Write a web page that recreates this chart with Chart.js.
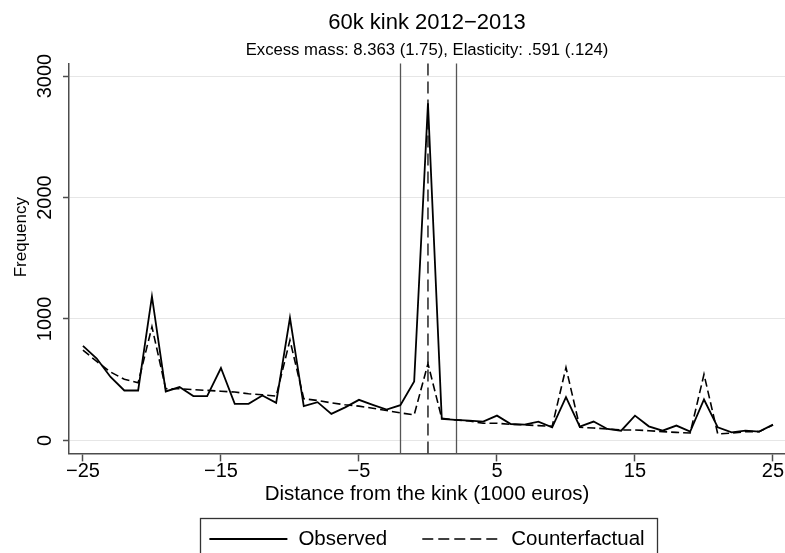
<!DOCTYPE html>
<html>
<head>
<meta charset="utf-8">
<script src="https://cdn.jsdelivr.net/npm/chart.js@4.4.1/dist/chart.umd.min.js"></script>
<style>
  html, body { margin: 0; padding: 0; background: #fff; }
  #wrap { width: 785px; height: 553px; }
</style>
</head>
<body>
<div id="wrap"><canvas id="myChart" width="785" height="553"></canvas></div>
<script>
// ---------------------------- data ----------------------------
var distance = [-25, -24, -23, -22, -21, -20, -19, -18, -17, -16, -15, -14, -13, -12, -11, -10,
  -9, -8, -7, -6, -5, -4, -3, -2, -1, 0, 1, 2, 3, 4, 5, 6, 7, 8, 9, 10,
  11, 12, 13, 14, 15, 16, 17, 18, 19, 20, 21, 22, 23, 24, 25];
var observed = [779, 674, 522, 411, 411, 1185, 403, 439, 365, 365, 596, 301, 301, 370, 309, 1010,
  282, 315, 218, 272, 334, 293, 254, 290, 485, 2775, 177, 169, 163, 155, 204, 135, 130, 155, 108, 356,
  113, 155, 94, 80, 204, 116, 80, 122, 72, 337, 108, 66, 80, 72, 130];
var counterfactual = [743, 650, 563, 503, 475, 936, 425, 425, 418, 412, 405, 398, 384, 376, 365, 826,
  343, 329, 309, 293, 282, 265, 246, 227, 210, 632, 182, 169, 160, 141, 141, 132, 128, 122, 116, 600,
  108, 102, 94, 86, 86, 80, 72, 66, 61, 544, 52, 61, 72, 72, 127];
var xTicks = [-25, -15, -5, 5, 15, 25];
var yTicks = [0, 1000, 2000, 3000];
var kinkBand = [-2, 2];   // excluded window
var kinkPoint = [0];      // the kink itself

var FONT = "'Liberation Sans', Arial, Helvetica, sans-serif";
var AXIS = '#4d4d4d';

function toPoints(vals) {
  return distance.map(function (d, i) { return { x: d, y: vals[i] }; });
}
function minus(v) {
  return String(v).replace('-', '\u2212');
}

// ------------------------- kink lines --------------------------
var kinkLines = {
  id: 'kinkLines',
  beforeDatasetsDraw: function (chart) {
    var ctx = chart.ctx, a = chart.chartArea, xs = chart.scales.x;
    ctx.save();
    ctx.strokeStyle = '#555';
    ctx.lineWidth = 1.3;
    kinkBand.forEach(function (v) {
      var px = Math.round(xs.getPixelForValue(v)) + 0.5;
      ctx.beginPath();
      ctx.moveTo(px, a.top);
      ctx.lineTo(px, a.bottom);
      ctx.stroke();
    });
    ctx.strokeStyle = '#333';
    ctx.lineWidth = 1.6;
    ctx.setLineDash([12, 6]);
    kinkPoint.forEach(function (v) {
      var px = xs.getPixelForValue(v);
      ctx.beginPath();
      ctx.moveTo(px, a.top);
      ctx.lineTo(px, a.bottom);
      ctx.stroke();
    });
    ctx.restore();
  }
};

// ------------------------ boxed legend -------------------------
var boxLegend = {
  id: 'boxLegend',
  afterDraw: function (chart) {
    var ctx = chart.ctx, a = chart.chartArea;
    var sets = chart.data.datasets;
    var sample = 78, gapText = 11, gapItem = 35;
    var y = 539;
    ctx.save();
    ctx.font = '20.5px ' + FONT;
    var total = 0;
    sets.forEach(function (ds, i) {
      total += sample + gapText + ctx.measureText(ds.label).width;
      if (i < sets.length - 1) total += gapItem;
    });
    var x = (a.left + a.right) / 2 - total / 2;
    var start = x;
    sets.forEach(function (ds) {
      ctx.strokeStyle = ds.borderColor;
      ctx.lineWidth = ds.borderWidth;
      ctx.setLineDash(ds.legendDash || []);
      ctx.beginPath();
      ctx.moveTo(x, y);
      ctx.lineTo(x + sample, y);
      ctx.stroke();
      ctx.setLineDash([]);
      x += sample + gapText;
      ctx.fillStyle = '#000';
      ctx.textBaseline = 'middle';
      ctx.textAlign = 'left';
      ctx.fillText(ds.label, x, y);
      x += ctx.measureText(ds.label).width + gapItem;
    });
    var end = x - gapItem;
    ctx.strokeStyle = '#333';
    ctx.lineWidth = 1.3;
    ctx.strokeRect(Math.round(start - 9) + 0.5, 518.5, Math.round(end + 13 - (start - 9)), 60);
    ctx.restore();
  }
};

// ---------------------------- chart ----------------------------
var pickChart = document.getElementById('myChart');
var drawChart = new Chart(pickChart, {
  type: 'line',
  data: {
    datasets: [
      {
        label: 'Observed',
        data: toPoints(observed),
        borderColor: '#000',
        borderWidth: 1.8,
        pointRadius: 0,
        tension: 0
      },
      {
        label: 'Counterfactual',
        data: toPoints(counterfactual),
        borderColor: '#000',
        borderWidth: 1.6,
        borderDash: [8, 4],
        legendDash: [11, 5],
        pointRadius: 0,
        tension: 0
      }
    ]
  },
  options: {
    responsive: false,
    animation: false,
    devicePixelRatio: 1,
    layout: { padding: { left: 0, right: 0, top: 0, bottom: 46 } },
    plugins: {
      legend: { display: false },
      tooltip: { enabled: false },
      title: {
        display: true,
        fullSize: false,
        text: '60k kink 2012\u22122013',
        color: '#000',
        font: { family: FONT, size: 22, weight: 'normal' },
        padding: { top: 10, bottom: 2 }
      },
      subtitle: {
        display: true,
        fullSize: false,
        text: 'Excess mass: 8.363 (1.75), Elasticity: .591 (.124)',
        color: '#000',
        font: { family: FONT, size: 16.7, weight: 'normal' },
        padding: { top: 2, bottom: 3 }
      }
    },
    scales: {
      x: {
        type: 'linear',
        min: -26.01,
        max: 25.87,
        afterBuildTicks: function (s) {
          s.ticks = xTicks.map(function (v) { return { value: v }; });
        },
        grid: {
          display: true,
          drawOnChartArea: false,
          drawTicks: true,
          tickLength: 8,
          tickWidth: 1.5,
          tickColor: AXIS
        },
        border: { display: true, color: AXIS, width: 1.5 },
        ticks: {
          color: '#000',
          font: { family: FONT, size: 20 },
          padding: -2,
          maxRotation: 0,
          autoSkip: false,
          callback: function (v) { return minus(v); }
        },
        title: {
          display: true,
          text: 'Distance from the kink (1000 euros)',
          color: '#000',
          font: { family: FONT, size: 20.5 },
          padding: { top: 1, bottom: 0 }
        }
      },
      y: {
        min: -107,
        max: 3104,
        afterBuildTicks: function (s) {
          s.ticks = yTicks.map(function (v) { return { value: v }; });
        },
        grid: {
          color: '#e6e6e6',
          lineWidth: 1,
          tickColor: AXIS,
          tickLength: 6,
          tickWidth: 1.5
        },
        border: { display: true, color: AXIS, width: 1.5 },
        ticks: {
          color: '#000',
          font: { family: FONT, size: 20 },
          minRotation: 90,
          maxRotation: 90,
          crossAlign: 'center',
          padding: -5,
          callback: function (v) { return minus(v); }
        },
        title: {
          display: true,
          text: '\u00a0\u00a0\u00a0\u00a0\u00a0\u00a0\u00a0\u00a0\u00a0Frequency',
          color: '#000',
          font: { family: FONT, size: 17 },
          padding: { top: 10.8, bottom: 17.8 }
        }
      }
    }
  },
  plugins: [kinkLines, boxLegend]
});
</script>
</body>
</html>
